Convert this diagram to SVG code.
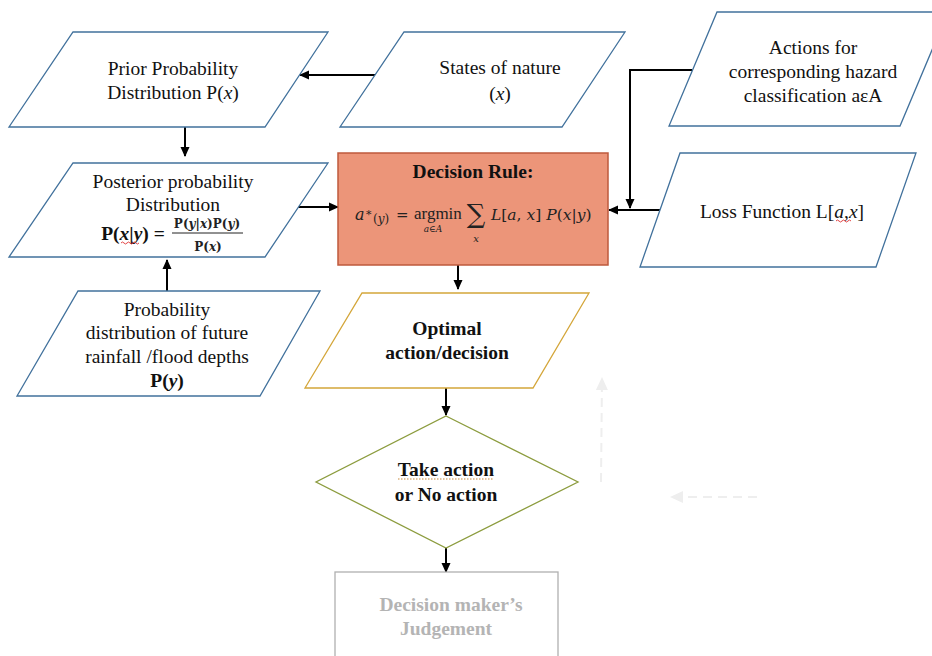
<svg xmlns="http://www.w3.org/2000/svg" width="932" height="656" viewBox="0 0 932 656">
  <style>
    .io { fill: #ffffff; stroke: #41719C; stroke-width: 1.3; }
    .t { font-family: "Liberation Serif", "Times New Roman", serif; font-size: 19.5px; fill: #111111; text-anchor: middle; }
    .b { font-weight: bold; }
    .m { font-family: "DejaVu Serif", "Liberation Serif", serif; fill: #222222; }
    .conn { stroke: #000000; stroke-width: 2; fill: none; }
    .ghost { stroke: #EEEEEE; stroke-width: 2; fill: none; stroke-dasharray: 9 6; }
    .squig { stroke: #E03030; stroke-width: 0.9; fill: none; }
  </style>
  <defs>
    <marker id="arrow" markerWidth="10" markerHeight="10" refX="9" refY="5" orient="auto" markerUnits="userSpaceOnUse">
      <path d="M0,0.5 L10,5 L0,9.5 Z" fill="#000000"/>
    </marker>
    <marker id="arrowGhost" markerWidth="14" markerHeight="14" refX="12" refY="7" orient="auto" markerUnits="userSpaceOnUse">
      <path d="M0,1 L13,7 L0,13 Z" fill="#EEEEEE"/>
    </marker>
  </defs>

  <!-- connectors -->
  <g id="connectors">
    <line class="conn" x1="378" y1="75" x2="300" y2="75" marker-end="url(#arrow)"/>
    <line class="conn" x1="185" y1="127" x2="185" y2="156" marker-end="url(#arrow)"/>
    <line class="conn" x1="298" y1="207" x2="338" y2="207" marker-end="url(#arrow)"/>
    <line class="conn" x1="167" y1="291" x2="167" y2="260" marker-end="url(#arrow)"/>
    <polyline class="conn" points="692,70 630,70 630,208" marker-end="url(#arrow)"/>
    <line class="conn" x1="660" y1="210" x2="609" y2="210" marker-end="url(#arrow)"/>
    <line class="conn" x1="458" y1="265" x2="458" y2="289" marker-end="url(#arrow)"/>
    <line class="conn" x1="446" y1="388" x2="446" y2="415" marker-end="url(#arrow)"/>
    <line class="conn" x1="446" y1="548" x2="446" y2="572" marker-end="url(#arrow)"/>
    <!-- faint feedback arrows -->
    <line class="ghost" x1="601" y1="482" x2="602" y2="378" marker-end="url(#arrowGhost)"/>
    <line class="ghost" x1="757" y1="497" x2="671" y2="497" marker-end="url(#arrowGhost)"/>
  </g>

  <!-- Prior probability -->
  <g id="prior">
    <polygon class="io" points="73,32 328,32 265,127 9,127"/>
    <text class="t" x="173" y="75">Prior Probability</text>
    <text class="t" x="173" y="99">Distribution P(<tspan font-style="italic">x</tspan>)</text>
  </g>

  <!-- States of nature -->
  <g id="states">
    <polygon class="io" points="404,32 625,32 562,127 340,127"/>
    <text class="t" x="500" y="74">States of nature</text>
    <text class="t" x="500" y="100">(<tspan font-style="italic">x</tspan>)</text>
  </g>

  <!-- Actions -->
  <g id="actions">
    <polygon class="io" points="717,12 948,12 900,126 669,126"/>
    <text class="t" x="813" y="54">Actions for</text>
    <text class="t" x="813" y="78">corresponding hazard</text>
    <text class="t" x="813" y="102">classification aεA</text>
  </g>

  <!-- Posterior -->
  <g id="posterior">
    <polygon class="io" points="73,163 328,163 265,257 9,257"/>
    <text class="t" x="173" y="188">Posterior probability</text>
    <text class="t" x="173" y="211">Distribution</text>
    <text class="t b" x="133" y="240">P(<tspan font-style="italic">x</tspan>|<tspan font-style="italic">y</tspan>) =</text>
    <path class="squig" d="M121,243 q1.5,-2 3,0 t3,0 t3,0 t3,0 t3,0 t3,0"/>
    <text class="m b" x="207" y="228" font-size="12" text-anchor="middle">P(<tspan font-style="italic">y</tspan>|<tspan font-style="italic">x</tspan>)P(<tspan font-style="italic">y</tspan>)</text>
    <line x1="172" y1="233" x2="243" y2="233" stroke="#222222" stroke-width="1"/>
    <text class="m b" x="208" y="251" font-size="12" text-anchor="middle">P(<tspan font-style="italic">x</tspan>)</text>
  </g>

  <!-- Decision rule -->
  <g id="decision-rule">
    <rect x="338" y="153" width="270" height="112" fill="#EC9579" stroke="#BE5A3D" stroke-width="1.5"/>
    <text class="t b" x="473" y="178">Decision Rule:</text>
    <g class="m" font-size="16">
      <text x="355" y="220" font-style="italic">a</text>
      <text x="366" y="218" font-size="11">*</text>
      <text x="373" y="223" font-size="12">(<tspan font-style="italic">y</tspan>)</text>
      <text x="396" y="220" font-size="15">=</text>
      <text x="414" y="219" font-family="Liberation Serif, serif" font-size="17">argmin</text>
      <text x="433" y="232" text-anchor="middle" font-size="9" font-style="italic">a∈A</text>
      <text x="476" y="223" text-anchor="middle" font-size="26">∑</text>
      <text x="476" y="242" text-anchor="middle" font-size="10" font-style="italic">x</text>
      <text x="491" y="220" font-size="15.5"><tspan font-style="italic">L</tspan>[<tspan font-style="italic">a</tspan>, <tspan font-style="italic">x</tspan>] <tspan font-style="italic">P</tspan>(<tspan font-style="italic">x</tspan>|<tspan font-style="italic">y</tspan>)</text>
    </g>
  </g>

  <!-- Loss function -->
  <g id="loss">
    <polygon class="io" points="680,153 916,153 876,267 640,267"/>
    <text class="t" x="782" y="218">Loss Function L[<tspan font-style="italic">a</tspan>,<tspan font-style="italic">x</tspan>]</text>
    <path class="squig" d="M836,221 q1.5,-2 3,0 t3,0 t3,0 t3,0 t3,0"/>
  </g>

  <!-- Probability distribution of future rainfall -->
  <g id="prob-dist">
    <polygon class="io" points="78,291 320,291 260,396 17,396"/>
    <text class="t" x="167" y="316">Probability</text>
    <text class="t" x="167" y="339">distribution of future</text>
    <text class="t" x="167" y="363">rainfall /flood depths</text>
    <text class="t b" x="167" y="387">P(<tspan font-style="italic">y</tspan>)</text>
  </g>

  <!-- Optimal action -->
  <g id="optimal">
    <polygon points="362,293 589,293 533,388 305,388" fill="#ffffff" stroke="#D4A63A" stroke-width="1.3"/>
    <text class="t b" x="447" y="335">Optimal</text>
    <text class="t b" x="447" y="359">action/decision</text>
  </g>

  <!-- Take action decision -->
  <g id="take-action">
    <polygon points="446,416 578,482 446,548 316,482" fill="#ffffff" stroke="#8C9C3E" stroke-width="1.3"/>
    <text class="t b" x="446" y="476">Take action</text>
    <line x1="398" y1="479" x2="494" y2="479" stroke="#C8873A" stroke-width="1.2" stroke-dasharray="1.5 1.5"/>
    <text class="t b" x="446" y="501">or No action</text>
  </g>

  <!-- Decision maker's judgement -->
  <g id="judgement">
    <rect x="335" y="572" width="223" height="100" fill="#ffffff" stroke="#B0B0B0" stroke-width="1.3"/>
    <text class="t b" x="451" y="611" style="fill:#B4B4B4">Decision maker’s</text>
    <text class="t b" x="446" y="635" style="fill:#B4B4B4">Judgement</text>
  </g>
</svg>
